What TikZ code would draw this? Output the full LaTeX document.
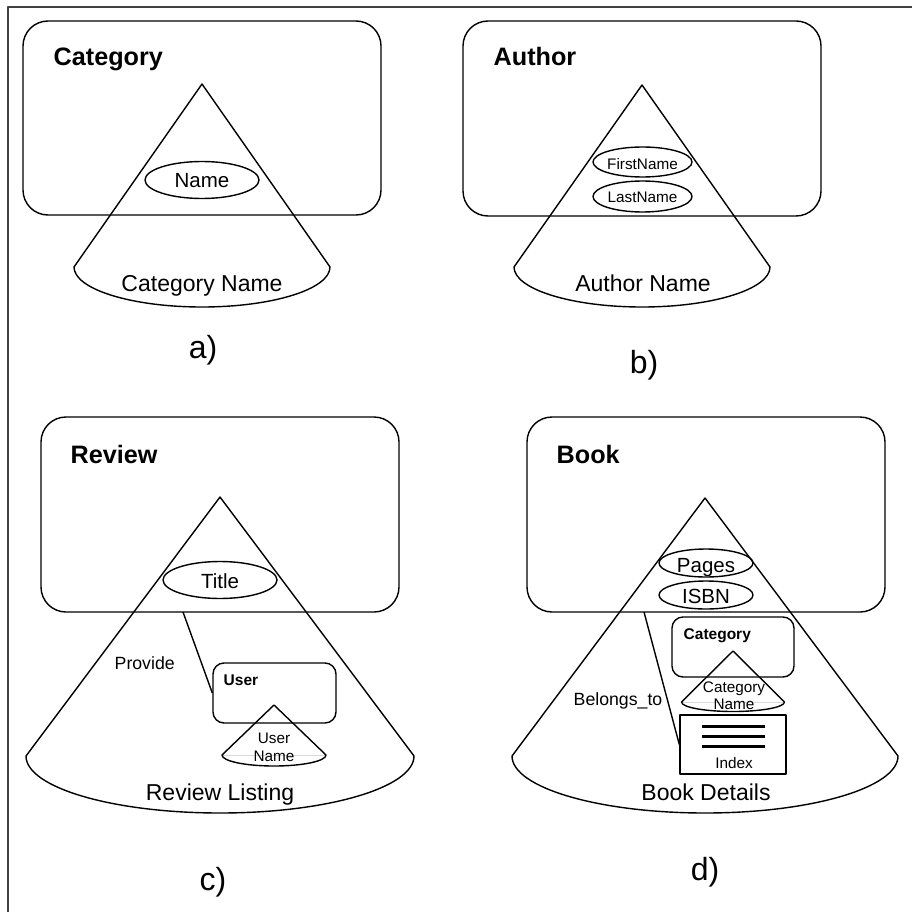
\documentclass[tikz,border=0pt]{standalone}
\usepackage{fontspec}
\setmainfont{Liberation Sans}
\usetikzlibrary{shapes.geometric}
\newcommand\drawcone[5]{\draw (#1,#2) -- (#1-#4,#3) arc[start angle=180,end angle=360,x radius=#4pt,y radius=#5pt] -- cycle;}
\begin{document}
\begin{tikzpicture}[x=1pt,y=-1pt, line width=1.4pt, line join=round,
  ent/.style={draw, rounded corners=25pt, inner sep=0pt},
  subent/.style={draw, rounded corners=11pt, inner sep=0pt},
  attr/.style={draw, ellipse, inner sep=0pt},
  ttl/.style={font=\fontsize{25.2}{29}\selectfont\bfseries, anchor=base west, inner sep=0pt},
  sttl/.style={font=\fontsize{15.5}{18}\selectfont\bfseries, anchor=base west, inner sep=0pt},
  cl/.style={font=\fontsize{23}{27}\selectfont, anchor=base, inner sep=0pt},
  al/.style={font=\fontsize{20.5}{24}\selectfont, anchor=base, inner sep=0pt},
  sl/.style={font=\fontsize{15.3}{18}\selectfont, anchor=base, inner sep=0pt},
  rel/.style={font=\fontsize{17.7}{21}\selectfont, anchor=base west, inner sep=0pt},
  lab/.style={font=\fontsize{32}{36}\selectfont, anchor=base, inner sep=0pt}]
\useasboundingbox (0,0) rectangle (912,912);
% frame
\draw[gray!50!black, line width=1.5pt] (8,912) -- (8,7) -- (912,7);

% ---------- a) ----------
\node[ent, minimum width=358pt, minimum height=194pt] (catbox) at (202,118) {};
\node[ttl] (catttl) at (53,66) {Category};
\drawcone{202}{84}{267}{128}{40}
\node[attr, minimum width=114pt, minimum height=37pt] (catname) at (202,180) {};
\node[al] (catnamet) at (202,188) {Name};
\node[cl] (catcone) at (202,291) {Category Name};
\node[lab] (la) at (203,358) {a)};

% ---------- b) ----------
\node[ent, minimum width=358pt, minimum height=195pt] (authbox) at (642,118.5) {};
\node[ttl] (authttl) at (493,66) {Author};
\drawcone{642}{85}{267}{128}{40}
\node[attr, minimum width=99pt, minimum height=30pt] (fn) at (642.5,162) {};
\node[sl] (fnt) at (642.5,170) {FirstName};
\node[attr, minimum width=99pt, minimum height=31pt] (ln) at (642.5,196.5) {};
\node[sl] (lnt) at (642.5,202) {LastName};
\node[cl] (authcone) at (643,291) {Author Name};
\node[lab] (lb) at (644,373) {b)};

% ---------- c) ----------
\node[ent, minimum width=358pt, minimum height=195pt] (revbox) at (220,514.5) {};
\node[ttl] (revttl) at (70,463) {Review};
\drawcone{220}{497}{756}{194}{57}
\node[attr, minimum width=114pt, minimum height=37pt] (title) at (220,580) {};
\node[al] (titlet) at (220,588) {Title};
\node[subent, minimum width=123pt, minimum height=60pt] (userbox) at (274.5,693) {};
\node[sttl] (userttl) at (223,685) {User};
\draw[gray!30, line width=0.6pt] (222,755) -- (326,755);
\drawcone{274}{705}{755}{52}{11}
\node[sl] (un1) at (274,743) {User};
\node[sl] (un2) at (274,761) {Name};
\coordinate (pv) at (183,612);
\draw (pv) -- (userbox.west);
\node[rel] (provide) at (114,669) {Provide};
\node[cl] (revcone) at (220,800) {Review Listing};
\node[lab] (lc) at (213,890) {c)};

% ---------- d) ----------
\node[ent, minimum width=358pt, minimum height=195pt] (bookbox) at (706,514.5) {};
\node[ttl] (bookttl) at (556,463) {Book};
\drawcone{705}{498}{756}{193}{57}
\node[attr, minimum width=94pt, minimum height=28pt] (pages) at (706,563) {};
\node[al] (pagest) at (706,572) {Pages};
\node[attr, minimum width=94pt, minimum height=28pt] (isbn) at (706,595) {};
\node[al] (isbnt) at (706,603) {ISBN};
\node[subent, minimum width=122pt, minimum height=60pt] (catsub) at (733,647) {};
\node[sttl] (catsubttl) at (683,639) {Category};
\draw[gray!30, line width=0.6pt] (682,702) -- (785,702);
\drawcone{733}{651}{702}{51.5}{9.5}
\node[sl] (cn1) at (734,692) {Category};
\node[sl] (cn2) at (734,709) {Name};
\node[draw, inner sep=0pt, minimum width=106pt, minimum height=59pt] (idx) at (733,744.5) {};
\draw[line width=3pt] (702,726) -- (765,726);
\draw[line width=3pt] (702,736) -- (765,736);
\draw[line width=3pt] (702,746) -- (765,746);
\node[sl] (idxt) at (734,768) {Index};
\coordinate (bt) at (644,612);
\draw (bt) -- (idx.west);
\node[rel] (belongs) at (573,705) {Belongs\_to};
\node[cl] (bookcone) at (706,800) {Book Details};
\node[lab] (ld) at (705,880) {d)};
\end{tikzpicture}
\end{document}
